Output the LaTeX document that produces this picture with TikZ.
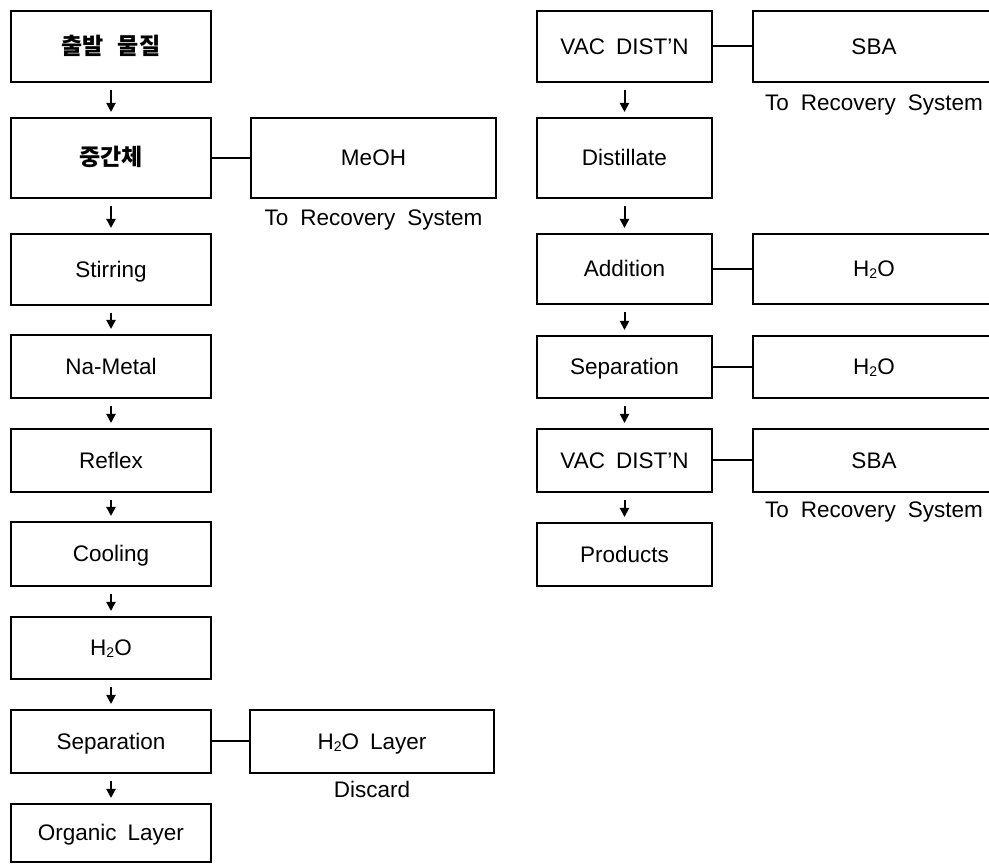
\documentclass[tikz,border=0pt]{standalone}
\usepackage{fontspec}
\setmainfont{Liberation Sans}
\newfontfamily\krfont{Noto Sans CJK KR}
\usetikzlibrary{arrows.meta}
\newcommand\latfont{\fontsize{22.5}{27}\selectfont\spaceskip 11pt\relax}
\newcommand\notefont{\fontsize{22.5}{27}\selectfont\spaceskip 12pt\relax}
\newcommand\kofont{\krfont\bfseries\fontsize{23}{27}\selectfont\spaceskip 14pt\relax}
\newcommand\subtwo{\raisebox{-2pt}{\fontsize{14}{16}\selectfont 2}}
\tikzset{
  basebox/.style={draw, line width=2pt, inner sep=0pt, align=center,
    font={\latfont}, text height=16pt, text depth=0pt},
  lbox/.style={basebox, minimum width=200pt},
  rbox/.style={basebox, minimum width=175pt},
  sbox/.style={basebox, minimum width=243pt},
  krtext/.style={font={\kofont}},
  flow/.style={line width=2pt, -{Triangle[width=9pt,length=9pt]}, shorten <=7pt, shorten >=5pt},
  link/.style={line width=2pt},
  note/.style={anchor=base, inner sep=0pt, font={\notefont}}
}
\begin{document}
\begin{tikzpicture}[x=1pt,y=1pt]
\useasboundingbox (0,0) rectangle (989,865);
\clip (0,0) rectangle (989,865);
% left column
\node[lbox, krtext, minimum height=71pt] (A1) at (111,818.5) {출발 물질};
\node[lbox, krtext, minimum height=80pt] (A2) at (111,707) {중간체};
\node[lbox, minimum height=71pt] (A3) at (111,595.5) {Stirring};
\node[lbox, minimum height=63pt] (A4) at (111,498.5) {Na-Metal};
\node[lbox, minimum height=63pt] (A5) at (111,404.5) {Reflex};
\node[lbox, minimum height=64pt] (A6) at (111,311) {Cooling};
\node[lbox, minimum height=62pt] (A7) at (111,217) {H\subtwo O};
\node[lbox, minimum height=63pt] (A8) at (111,123.5) {Separation};
\node[lbox, minimum height=58pt] (A9) at (111,32) {Organic Layer};
% left side boxes
\node[basebox, minimum width=245pt, minimum height=80pt] (M) at (373.5,707) {MeOH};
\node[note] (Mn) at ([yshift=-27pt]M.south) {To Recovery System};
\node[basebox, minimum width=244pt, minimum height=63pt] (L) at (372,123.5) {H\subtwo O Layer};
\node[note] (Ln) at ([yshift=-24pt]L.south) {Discard};
% right column
\node[rbox, minimum height=71pt] (B1) at (624.5,818.5) {VAC DIST’N};
\node[rbox, minimum height=80pt] (B2) at (624.5,707) {Distillate};
\node[rbox, minimum height=70pt] (B3) at (624.5,596) {Addition};
\node[rbox, minimum height=62pt] (B4) at (624.5,498) {Separation};
\node[rbox, minimum height=63pt] (B5) at (624.5,404.5) {VAC DIST’N};
\node[rbox, minimum height=63pt] (B6) at (624.5,310.5) {Products};
% right side boxes
\node[sbox, minimum height=71pt] (S1) at (874,818.5) {SBA};
\node[note] (S1n) at ([yshift=-28pt]S1.south) {To Recovery System};
\node[sbox, minimum height=70pt] (S2) at (874,596) {H\subtwo O};
\node[sbox, minimum height=62pt] (S3) at (874,498) {H\subtwo O};
\node[sbox, minimum height=63pt] (S4) at (874,404.5) {SBA};
\node[note] (S4n) at ([yshift=-25pt]S4.south) {To Recovery System};
% flow arrows
\foreach \a/\b in {A1/A2,A2/A3,A3/A4,A4/A5,A5/A6,A6/A7,A7/A8,A8/A9,B1/B2,B2/B3,B3/B4,B4/B5,B5/B6}
  \draw[flow] (\a) -- (\b);
% side links
\draw[link] (A2) -- (M);
\draw[link] (A8) -- (L);
\draw[link] (B1) -- (S1);
\draw[link] (B3) -- (S2);
\draw[link] (B4) -- (S3);
\draw[link] (B5) -- (S4);
\end{tikzpicture}
\end{document}
